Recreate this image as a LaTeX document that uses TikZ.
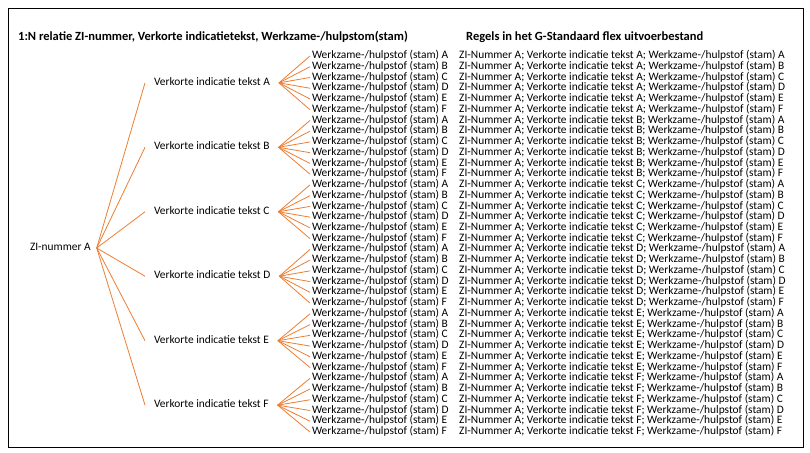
\documentclass[tikz,border=0pt]{standalone}
\usepackage{fontspec}
\setmainfont{Carlito}
\definecolor{orng}{HTML}{ED7D31}
\begin{document}
\begin{tikzpicture}[x=1pt,y=-1pt,
  txt/.style={font=\fontsize{11.4}{12}\selectfont, inner sep=0pt, anchor=west, text height=7.6pt, text depth=2.4pt},
  ttl/.style={font=\bfseries\fontsize{12.5}{14}\selectfont, inner sep=0pt, anchor=west},
  rootbox/.style={txt, outer xsep=6pt},
  midbox/.style={txt, outer xsep=9pt},
  leafbox/.style={txt, outer xsep=2pt},
  rulebox/.style={txt},
  link/.style={draw=orng, line width=0.8pt}]
\useasboundingbox (0,0) rectangle (810,452);
\draw[line width=0.8pt] (8,8) rectangle (803,447);
\node[ttl] (t1) at (18,37) {1:N relatie ZI-nummer, Verkorte indicatietekst, Werkzame-/hulpstom(stam)};
\node[ttl] (t2) at (466,37) {Regels in het G-Standaard flex uitvoerbestand};
\node[rootbox] (zi) at (24,248) {ZI-nummer A};
\foreach \g [count=\gi from 0] in {A,B,C,D,E,F}{
  \pgfmathsetmacro{\gy}{56+(6*\gi+2.5)*10.743}
  \node[midbox] (v\g) at (145,\gy) {Verkorte indicatie tekst \g};
  \draw[link] (zi.east) -- (v\g.west);
  \foreach \s [count=\si from 0] in {A,B,C,D,E,F}{
    \pgfmathsetmacro{\sy}{56+(6*\gi+\si)*10.743}
    \node[leafbox] (w\g\s) at (310,\sy) {Werkzame-/hulpstof (stam) \s};
    \draw[link] (v\g.east) -- (w\g\s.west);
    \node[rulebox] (r\g\s) at (459,\sy) {ZI-Nummer A; Verkorte indicatie tekst \g; Werkzame-/hulpstof (stam) \s};
  }
}
\end{tikzpicture}
\end{document}
